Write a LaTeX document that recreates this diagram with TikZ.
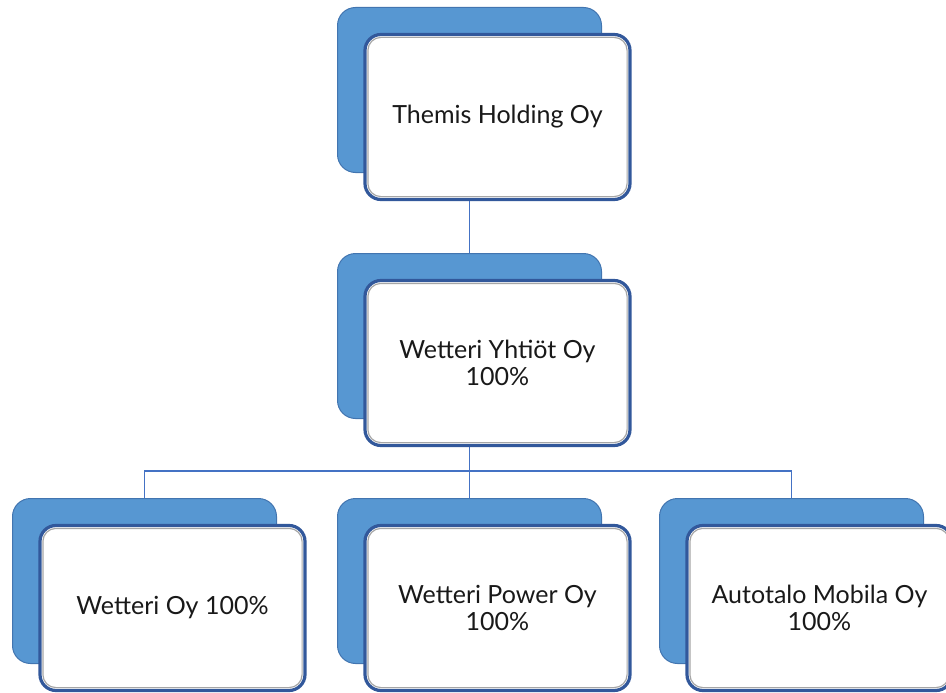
\documentclass[tikz,border=0pt]{standalone}
\usepackage{fontspec}
\setmainfont{Lato}
\usepackage{xcolor}
\usetikzlibrary{positioning, calc}

\definecolor{backblue}{RGB}{87,151,210}
\definecolor{backedge}{RGB}{66,117,176}
\definecolor{frontedge}{RGB}{50,88,155}
\definecolor{lineblue}{RGB}{68,114,196}

\begin{document}
\begin{tikzpicture}[x=1pt, y=-1pt,
    backbox/.style={draw=backedge, line width=1pt, fill=backblue, rounded corners=18pt, minimum width=264pt, minimum height=165pt},
    frontbox/.style={draw=frontedge, line width=3.2pt, fill=white, rounded corners=16pt, minimum width=265pt, minimum height=165pt, align=center, text=black!90, font=\fontsize{25}{27.5}\selectfont},
    bevel/.style={draw=black!35, line width=1.2pt, rounded corners=13pt},
    conn/.style={draw=lineblue, line width=1.3pt}]
    \useasboundingbox (0,0) rectangle (946,693);

    % Connectors first, so the boxes sit on top
    \coordinate (split) at (469.5,471);

    % Back and front box of every company
    \foreach \n/\x/\y/\txt in {1/469.5/90/{Themis Holding Oy}, 2/469.5/336/{Wetteri Yhtiöt Oy\\100\%}, 3/144.5/581/{Wetteri Oy 100\%}, 4/469.5/581/{Wetteri Power Oy\\100\%}, 5/791.5/581/{Autotalo Mobila Oy\\100\%}} {
        \node[backbox] (b\n) at (\x,\y) {};
        \node[frontbox] (f\n) at ($(b\n.center)+(28,27)$) {\txt};
        \draw[bevel] ($(f\n.north west)+(4.5,4.5)$) rectangle ($(f\n.south east)+(-4.5,-4.5)$);
    }

    % Lines between the levels
    \draw[conn] (b1.center |- f1.south) -- (b2.north);
    \draw[conn] (b2.center |- f2.south) -- (split);
    \foreach \k in {3,4,5} {
        \draw[conn] (split) -| (b\k.north);
    }
\end{tikzpicture}
\end{document}
